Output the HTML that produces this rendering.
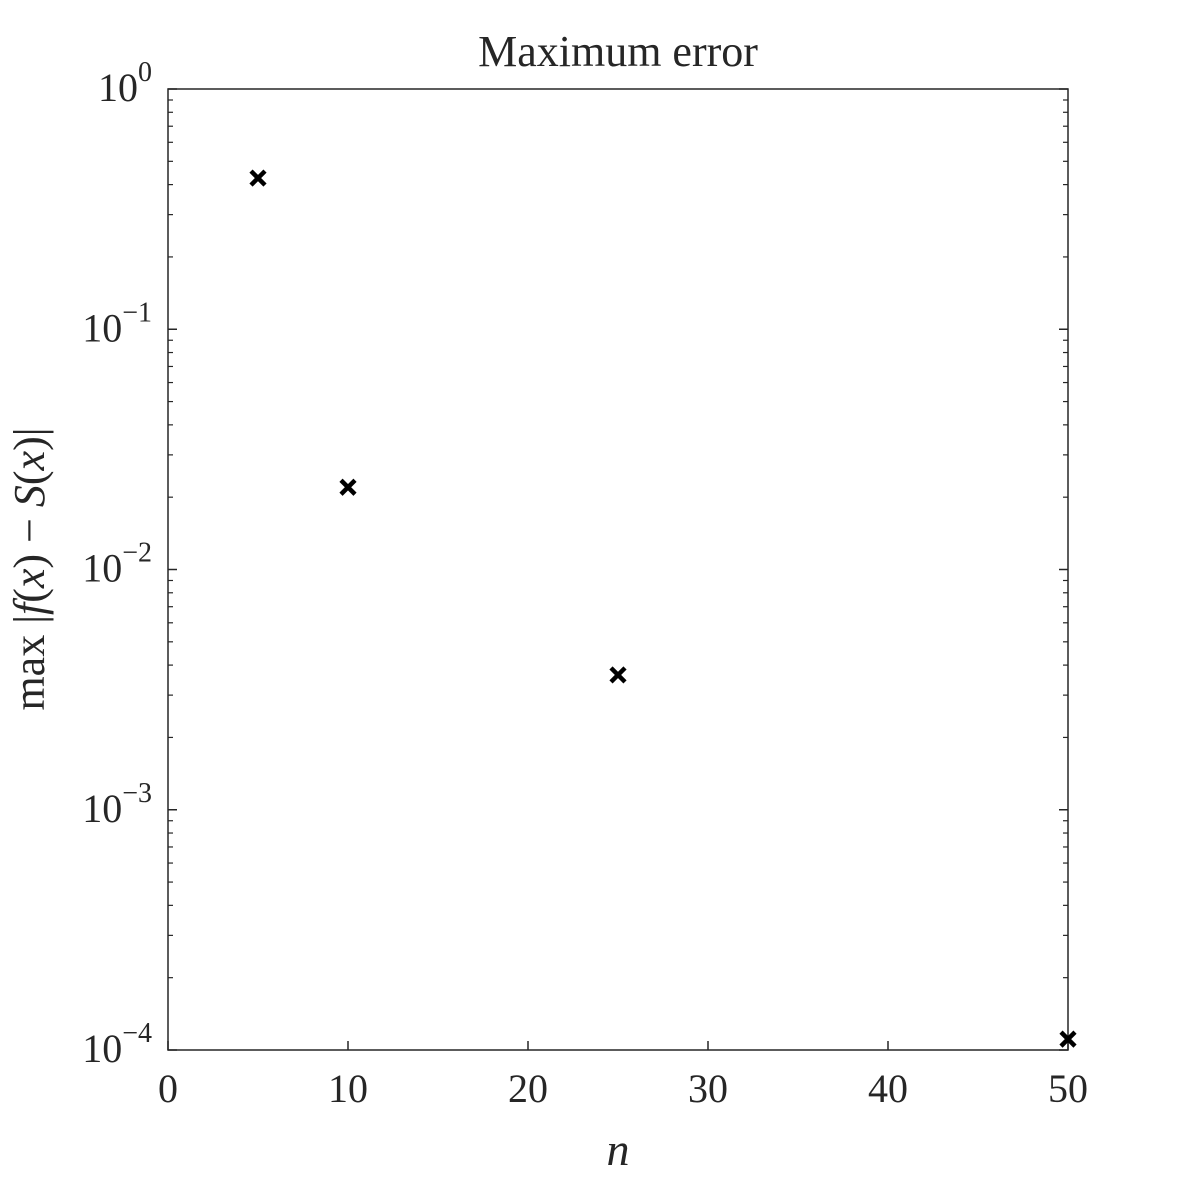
<!DOCTYPE html>
<html><head><meta charset="utf-8"><style>
body{margin:0;background:#fff;width:1181px;height:1181px;overflow:hidden}
svg text{font-family:"Liberation Serif",serif;fill:#262626}
</style></head><body>
<svg id="chart" width="1181" height="1181" viewBox="0 0 1181 1181" xmlns="http://www.w3.org/2000/svg">
<rect width="1181" height="1181" fill="#fff"/>
<text x="618" y="66" font-size="44" text-anchor="middle" fill="#000">Maximum error</text>
<g id="axes"></g>
<g id="marks"></g>
<text x="618" y="1165" font-size="46" font-style="italic" text-anchor="middle">n</text>
<text transform="translate(44,569) rotate(-90)" font-size="44" text-anchor="middle">max |<tspan font-style="italic">f</tspan>(<tspan font-style="italic">x</tspan>) − <tspan font-style="italic">S</tspan>(<tspan font-style="italic">x</tspan>)|</text>
</svg>
<script>
const nValues=[5,10,25,50];
const errValues=[0.426,0.022,0.00364,0.000111];
const xTicks=[0,10,20,30,40,50];
const yExps=[0,-1,-2,-3,-4];
const L=168,R=1068,T=89,B=1050;
const xs=v=>L+(v-0)/(50-0)*(R-L);
const ys=v=>T+(0-Math.log10(v))/4*(B-T);
const NS="http://www.w3.org/2000/svg";
const axes=document.getElementById('axes'),marks=document.getElementById('marks');
function mk(tag,attrs,parent){const e=document.createElementNS(NS,tag);for(const k in attrs)e.setAttribute(k,attrs[k]);parent.appendChild(e);return e;}
const box=mk('rect',{x:L,y:T,width:R-L,height:B-T,fill:'none',stroke:'#262626','stroke-width':1.5},axes);


xTicks.forEach(t=>{
  const x=xs(t);
  const tk=mk('line',{x1:x,x2:x,y1:B,y2:B-9,stroke:'#262626','stroke-width':1.5},axes);
  
  
  const lb=mk('text',{x:x,y:1102,'font-size':40,'text-anchor':'middle'},axes);
  lb.textContent=t;
  
  
});
yExps.forEach(e=>{
  const y=ys(Math.pow(10,e));
  [[L,L+9],[R,R-9]].forEach(([a,b])=>{
    const tk=mk('line',{x1:a,x2:b,y1:y,y2:y,stroke:'#262626','stroke-width':1.5},axes);
    
    
  });
  const lb=mk('text',{x:152,y:y+12,'font-size':40,'text-anchor':'end'},axes);
  
  
  lb.textContent='10';
  const sup=mk('tspan',{dy:-20,'font-size':28},lb);sup.textContent=e===0?'0':'−'+(-e);
  if(e>-4){for(let m=2;m<=9;m++){
    const yy=ys(m*Math.pow(10,e-1));
    [[L,L+5],[R,R-5]].forEach(([a,b])=>{
      const mt=mk('line',{x1:a,x2:b,y1:yy,y2:yy,stroke:'#262626','stroke-width':1.2},axes);
      
      
    });
  }}
});
nValues.forEach((n,i)=>{
  const x=xs(n),y=ys(errValues[i]),s=7;
  const p=mk('path',{d:`M${x-s},${y-s}L${x+s},${y+s}M${x-s},${y+s}L${x+s},${y-s}`,stroke:'#000','stroke-width':4.5,fill:'none'},marks);
  
  
});
</script>
</body></html>
